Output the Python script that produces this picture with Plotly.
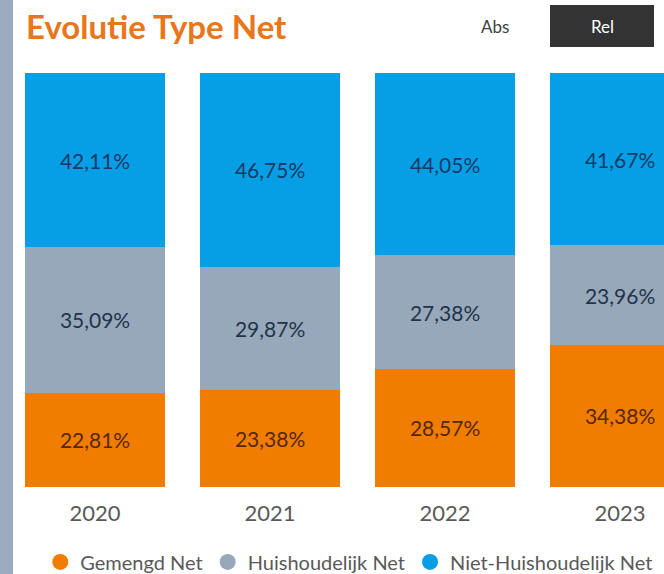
import plotly.graph_objects as go

years = ["2020", "2021", "2022", "2023"]
gemengd = [22.81, 23.38, 28.57, 34.38]
huishoudelijk = [35.09, 29.87, 27.38, 23.96]
niet_huishoudelijk = [42.11, 46.75, 44.05, 41.67]
series_names = ["Gemengd Net", "Huishoudelijk Net", "Niet-Huishoudelijk Net"]

colors = ["#F07D00", "#97A8BA", "#069FE5"]
text_colors = ["#552800", "#23334A", "#143A66"]
FONT = "Lato"

fig = go.Figure()
for name, vals, col, tcol in zip(series_names, [gemengd, huishoudelijk, niet_huishoudelijk], colors, text_colors):
    fig.add_trace(go.Bar(
        x=years, y=vals, name=name,
        marker=dict(color=col, line=dict(width=0)),
        texttemplate="%{y:.2f}%", textposition="inside", insidetextanchor="middle",
        textangle=0,
        insidetextfont=dict(color=tcol, size=21, family=FONT),
        width=0.8, showlegend=False,
    ))
    fig.add_trace(go.Scatter(
        x=[None], y=[None], mode="markers", name=name,
        marker=dict(color=col, size=16, symbol="circle"),
        showlegend=True,
    ))

fig.update_layout(
    width=664, height=574,
    barmode="stack",
    separators=",.",
    paper_bgcolor="white", plot_bgcolor="white",
    margin=dict(l=0, r=0, t=73, b=87, autoexpand=False),
    font=dict(family=FONT, color="#595959"),
    xaxis=dict(type="category", range=[-0.543, 3.251], showgrid=False, zeroline=False,
               showline=False, ticks="", ticklabelstandoff=11,
               tickfont=dict(size=22, color="#595959", family=FONT), fixedrange=True),
    yaxis=dict(range=[0, 100], visible=False, fixedrange=True),
    legend=dict(orientation="h", x=0.526, xanchor="center", y=-0.181, yanchor="middle",
                font=dict(size=20, color="#595959", family=FONT),
                itemsizing="trace", traceorder="normal", itemwidth=30),
    shapes=[
        dict(type="rect", xref="paper", yref="paper", x0=0, x1=13/664, y0=-0.25, y1=1.2,
             fillcolor="#9AABBD", line=dict(width=0), layer="above"),
        dict(type="rect", xref="paper", yref="paper", x0=550/664, x1=654/664,
             y0=(487-47)/414, y1=(487-5)/414, fillcolor="#333333", line=dict(width=0)),
    ],
    annotations=[
        dict(text="<b>Evolutie Type Net</b>", xref="paper", yref="paper", x=24/664, y=(487-26)/414,
             xanchor="left", yanchor="middle", showarrow=False,
             font=dict(size=33, color="#E8761A", family=FONT)),
        dict(text="Abs", xref="paper", yref="paper", x=495/664, y=(487-27)/414,
             xanchor="center", yanchor="middle", showarrow=False,
             font=dict(size=17, color="#404040", family=FONT)),
        dict(text="Rel", xref="paper", yref="paper", x=602/664, y=(487-27)/414,
             xanchor="center", yanchor="middle", showarrow=False,
             font=dict(size=17, color="#FFFFFF", family=FONT)),
    ],
)

fig.write_html("out.html", config={"displayModeBar": False},
               post_script="document.body.style.margin='0px';")
